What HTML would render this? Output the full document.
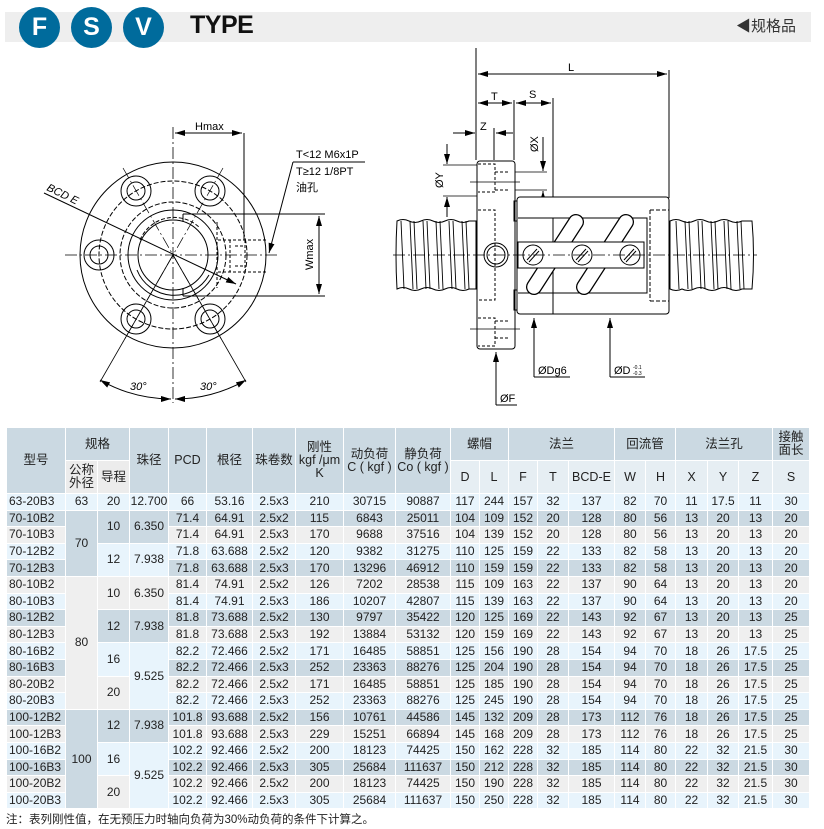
<!DOCTYPE html>
<html><head><meta charset="utf-8"><style>
body{margin:0;width:824px;height:829px;background:#fff;position:relative;overflow:hidden;font-family:"Liberation Sans","Noto Sans CJK SC",sans-serif;}
.bar{position:absolute;left:5px;top:12px;width:806px;height:30px;background:#eeeeee;}
.c{position:absolute;top:7px;width:41px;height:41px;border-radius:50%;background:#006b9c;color:#fff;font-weight:bold;font-size:25px;text-align:center;line-height:41px;}
.type{position:absolute;left:190px;top:11px;font-weight:bold;font-size:25px;color:#111;letter-spacing:-0.5px;}
.gg{position:absolute;right:28px;top:15px;font-size:15px;color:#333;}
table{position:absolute;left:6px;top:427px;border-collapse:collapse;table-layout:fixed;font-size:12px;color:#222;}
td{border:1.5px solid #fff;text-align:center;padding:0;white-space:nowrap;overflow:hidden;line-height:13px;}
.h{background:#cbd9e2;font-size:12.5px;}
.sg{background:#ececec;font-size:12.5px;}
.sl{background:#e6eef3;font-size:12.5px;}
tr.d td{height:15.6px;}
.a{background:#e8f4fc}.b{background:#cbd9e2}.g{background:#efefef}
.l{text-align:left;padding-left:2px}
.note{position:absolute;left:6px;top:811px;font-size:11.5px;color:#222;}
</style></head><body>
<div class="bar"></div>
<div class="c" style="left:19px">F</div><div class="c" style="left:71px">S</div><div class="c" style="left:123px">V</div>
<div class="type">TYPE</div>
<div class="gg">◀规格品</div>

<svg style="position:absolute;left:0;top:0" width="824" height="420" font-family="Liberation Sans, Noto Sans CJK SC, sans-serif">
<defs><marker id="ar" markerWidth="10" markerHeight="6" refX="10" refY="3" orient="auto-start-reverse" markerUnits="userSpaceOnUse"><path d="M0,0 L10,3 L0,6z" fill="#000"/></marker></defs>
<g stroke="#000" fill="none" stroke-width="1">
<circle cx="173" cy="255" r="93"/>
<circle cx="173" cy="255" r="74" stroke-dasharray="5,2"/>
<circle cx="173" cy="255" r="53" stroke-dasharray="5,2"/>
<circle cx="173" cy="255" r="45"/>
<circle cx="173" cy="255" r="35"/>
<path d="M137,270 A40,40 0 0,0 209,275" />
<path d="M140,240 A37,37 0 0,1 200,228" stroke-dasharray="4,2"/>
<g>
<circle cx="136" cy="191" r="15"/><circle cx="136" cy="191" r="9"/>
<circle cx="210" cy="191" r="15"/><circle cx="210" cy="191" r="9"/>
<circle cx="136" cy="319" r="15"/><circle cx="136" cy="319" r="9"/>
<circle cx="210" cy="319" r="15"/><circle cx="210" cy="319" r="9"/>
<circle cx="99" cy="255" r="15"/><circle cx="99" cy="255" r="9"/>
</g>
<path d="M65,255 H280" stroke-dasharray="12,3,2,3" stroke-width="0.8"/>
<path d="M173,127 V403" stroke-dasharray="12,3,2,3" stroke-width="0.8"/>
<path d="M123,168 L223,342 M223,168 L123,342" stroke-dasharray="12,3,2,3" stroke-width="0.7"/>
<path d="M173,255 L100,382 M173,255 L246,382" stroke-width="0.8"/>
<path d="M100,380 A144,144 0 0,0 171,399" marker-start="url(#ar)" marker-end="url(#ar)"/>
<path d="M175,399 A144,144 0 0,0 246,380" marker-start="url(#ar)" marker-end="url(#ar)"/>
<path d="M183,214 H325 M183,296 H325"/>
<path d="M183,214 V222 M183,288 V296" />
<path d="M217,222 V288 M230,240 V272" stroke-dasharray="3,2"/>
<path d="M218,240 H268 M218,272 H268 M235,246 H245 M235,266 H245 M245,240 V272" stroke-dasharray="3,2"/>
<path d="M244,133 V240"/>
<path d="M175,133 H242" marker-start="url(#ar)" marker-end="url(#ar)"/>
<path d="M319,216 V294" marker-start="url(#ar)" marker-end="url(#ar)"/>
<path d="M293,162 H365"/>
<path d="M293,162 L269,253" marker-end="url(#ar)"/>
<path d="M44,193 L236,284" marker-end="url(#ar)"/>

<path d="M476,48 V160 M669,70 V198 M514,100 V160 M553,98 V218 M494,128 V160"/>
<path d="M478,74 H667" marker-start="url(#ar)" marker-end="url(#ar)"/>
<path d="M478,103 H512" marker-start="url(#ar)" marker-end="url(#ar)"/>
<path d="M516,103 H551" marker-start="url(#ar)" marker-end="url(#ar)"/>
<path d="M453,133 H475" marker-end="url(#ar)"/>
<path d="M496,133 H513" marker-start="url(#ar)" />
<path d="M443,165 H478 M443,196 H478" stroke-width="0.8"/>
<path d="M447,144 V164" marker-end="url(#ar)"/><path d="M447,217 V197" marker-end="url(#ar)"/>
<path d="M495,172 H547 M495,190 H547" stroke-width="0.8"/>
<path d="M543,137 V171" marker-end="url(#ar)"/><path d="M543,212 V191" marker-end="url(#ar)"/>
<g>
<path d="M397,221 Q403,218 409,221 T421,221 T433,221 T445,221 T457,221 T469,221 L476,221 V289 L469,289 Q463,292 457,289 T445,289 T433,289 T421,289 T409,289 T397,289 Q395,255 397,221z"/>
<path d="M670,221 Q676,218 682,221 T694,221 T706,221 T718,221 T730,221 T742,221 L752,221 Q755,255 752,289 L742,289 Q736,292 730,289 T718,289 T706,289 T694,289 T682,289 Q676,292 670,289z"/>
<g stroke-width="0.9">
<path d="M401,221 L404,289 M410,221 L413,289 M414,221 L417,289 M423,221 L426,289 M427,221 L430,289 M436,221 L439,289 M440,221 L443,289 M449,221 L452,289 M453,221 L456,289 M462,221 L465,289 M466,221 L469,289"/>
<path d="M676,221 L679,289 M685,221 L688,289 M689,221 L692,289 M698,221 L701,289 M702,221 L705,289 M711,221 L714,289 M715,221 L718,289 M724,221 L727,289 M728,221 L731,289 M737,221 L740,289 M741,221 L744,289"/>
</g>
</g>
<rect x="477" y="161" width="38" height="188" rx="3" fill="#fff"/>
<path d="M478,210 H495 V300 H478 M478,164 H495 V192 H478 M478,318 H495 V346 H478" stroke-dasharray="3,2"/>
<path d="M470,182 H520 M470,329 H520" stroke-width="0.8"/>
<path d="M495,172 H510 M495,190 H510 M495,321 H510 M495,338 H510" stroke-dasharray="3,2"/>
<circle cx="496" cy="255" r="12"/><circle cx="496" cy="255" r="9"/>
<rect x="517" y="197" width="152" height="117" rx="3" fill="#fff"/>
<path d="M517,201 H514 V221 H517 M517,290 H514 V310 H517"/>
<path d="M518,218 H647 V293 H518 M553,218 V314"/>
<path d="M650,210 H669 M650,301 H669 M650,210 V301" stroke-dasharray="4,2"/>
<g stroke-linecap="round">
<path d="M576,222 L534,287" stroke-width="16"/><path d="M576,222 L534,287" stroke-width="13.5" stroke="#fff"/>
<path d="M626,222 L584,287" stroke-width="16"/><path d="M626,222 L584,287" stroke-width="13.5" stroke="#fff"/>
</g>
<rect x="518" y="242" width="126" height="26" fill="#fff"/>
<g>
<circle cx="533" cy="255" r="10"/><path d="M527,260 L537,249 M529,262 L539,251"/>
<circle cx="582" cy="255" r="10"/><path d="M576,260 L586,249 M578,262 L588,251"/>
<circle cx="630" cy="255" r="10"/><path d="M624,260 L634,249 M626,262 L636,251"/>
</g>
<path d="M393,255 H757" stroke-dasharray="12,3,2,3" stroke-width="0.8"/>
<path d="M534,377 V318" marker-end="url(#ar)"/><path d="M534,377 H570"/>
<path d="M610,377 V318" marker-end="url(#ar)"/><path d="M610,377 H645"/>
<path d="M496,405 V352" marker-end="url(#ar)"/><path d="M496,405 H517"/>
</g>
<g font-size="11" fill="#000">
<text x="195" y="130">Hmax</text>
<text x="296" y="158">T&lt;12  M6x1P</text>
<text x="296" y="175">T≥12  1/8PT</text>
<text x="296" y="191">油孔</text>
<text transform="translate(313,270) rotate(-90)">Wmax</text>
<text transform="translate(46,190) rotate(26)" font-style="italic">BCD E</text>
<text x="130" y="390" font-style="italic">30°</text>
<text x="200" y="390" font-style="italic">30°</text>
<text x="568" y="71">L</text>
<text x="491" y="100">T</text>
<text x="529" y="98">S</text>
<text x="480" y="130">Z</text>
<text transform="translate(443,188) rotate(-90)">ØY</text>
<text transform="translate(538,152) rotate(-90)">ØX</text>
<text x="538" y="374">ØDg6</text>
<text x="614" y="374">ØD</text>
<text x="633" y="369" font-size="5">-0.1</text><text x="633" y="375" font-size="5">-0.3</text>
<text x="500" y="402">ØF</text>
</g>
</svg>

<table>
<colgroup><col style="width:59px"><col style="width:32px"><col style="width:32px"><col style="width:39px"><col style="width:38px"><col style="width:46px"><col style="width:43px"><col style="width:48px"><col style="width:52px"><col style="width:55px"><col style="width:29px"><col style="width:29px"><col style="width:29px"><col style="width:31px"><col style="width:46px"><col style="width:31px"><col style="width:30px"><col style="width:32px"><col style="width:31px"><col style="width:34px"><col style="width:37px"></colgroup>
<tr style="height:33px"><td class="h" rowspan="2">型号</td><td class="h" colspan="2">规格</td><td class="h" rowspan="2">珠径</td><td class="h" rowspan="2">PCD</td><td class="h" rowspan="2">根径</td><td class="h" rowspan="2">珠卷数</td><td class="h" rowspan="2">刚性<br>kgf /μm<br>K</td><td class="h" rowspan="2">动负荷<br>C ( kgf )</td><td class="h" rowspan="2">静负荷<br>Co ( kgf )</td><td class="h" colspan="2">螺帽</td><td class="h" colspan="3">法兰</td><td class="h" colspan="2">回流管</td><td class="h" colspan="3">法兰孔</td><td class="h">接触<br>面长</td></tr>
<tr style="height:33px"><td class="sg">公称<br>外径</td><td class="sg">导程</td><td class="sl">D</td><td class="sl">L</td><td class="sl">F</td><td class="sl">T</td><td class="sl">BCD-E</td><td class="sl">W</td><td class="sl">H</td><td class="sl">X</td><td class="sl">Y</td><td class="sl">Z</td><td class="sl">S</td></tr>
<tr class="d a"><td class="l">63-20B3</td><td>63</td><td>20</td><td>12.700</td><td>66</td><td>53.16</td><td>2.5x3</td><td>210</td><td>30715</td><td>90887</td><td>117</td><td>244</td><td>157</td><td>32</td><td>137</td><td>82</td><td>70</td><td>11</td><td>17.5</td><td>11</td><td>30</td></tr>
<tr class="d b"><td class="l">70-10B2</td><td rowspan="4" class="b">70</td><td rowspan="2" class="b">10</td><td rowspan="2" class="b">6.350</td><td>71.4</td><td>64.91</td><td>2.5x2</td><td>115</td><td>6843</td><td>25011</td><td>104</td><td>109</td><td>152</td><td>20</td><td>128</td><td>80</td><td>56</td><td>13</td><td>20</td><td>13</td><td>20</td></tr>
<tr class="d g"><td class="l">70-10B3</td><td>71.4</td><td>64.91</td><td>2.5x3</td><td>170</td><td>9688</td><td>37516</td><td>104</td><td>139</td><td>152</td><td>20</td><td>128</td><td>80</td><td>56</td><td>13</td><td>20</td><td>13</td><td>20</td></tr>
<tr class="d a"><td class="l">70-12B2</td><td rowspan="2" class="a">12</td><td rowspan="2" class="a">7.938</td><td>71.8</td><td>63.688</td><td>2.5x2</td><td>120</td><td>9382</td><td>31275</td><td>110</td><td>125</td><td>159</td><td>22</td><td>133</td><td>82</td><td>58</td><td>13</td><td>20</td><td>13</td><td>20</td></tr>
<tr class="d b"><td class="l">70-12B3</td><td>71.8</td><td>63.688</td><td>2.5x3</td><td>170</td><td>13296</td><td>46912</td><td>110</td><td>159</td><td>159</td><td>22</td><td>133</td><td>82</td><td>58</td><td>13</td><td>20</td><td>13</td><td>20</td></tr>
<tr class="d g"><td class="l">80-10B2</td><td rowspan="8" class="g">80</td><td rowspan="2" class="g">10</td><td rowspan="2" class="g">6.350</td><td>81.4</td><td>74.91</td><td>2.5x2</td><td>126</td><td>7202</td><td>28538</td><td>115</td><td>109</td><td>163</td><td>22</td><td>137</td><td>90</td><td>64</td><td>13</td><td>20</td><td>13</td><td>20</td></tr>
<tr class="d a"><td class="l">80-10B3</td><td>81.4</td><td>74.91</td><td>2.5x3</td><td>186</td><td>10207</td><td>42807</td><td>115</td><td>139</td><td>163</td><td>22</td><td>137</td><td>90</td><td>64</td><td>13</td><td>20</td><td>13</td><td>20</td></tr>
<tr class="d b"><td class="l">80-12B2</td><td rowspan="2" class="b">12</td><td rowspan="2" class="b">7.938</td><td>81.8</td><td>73.688</td><td>2.5x2</td><td>130</td><td>9797</td><td>35422</td><td>120</td><td>125</td><td>169</td><td>22</td><td>143</td><td>92</td><td>67</td><td>13</td><td>20</td><td>13</td><td>25</td></tr>
<tr class="d g"><td class="l">80-12B3</td><td>81.8</td><td>73.688</td><td>2.5x3</td><td>192</td><td>13884</td><td>53132</td><td>120</td><td>159</td><td>169</td><td>22</td><td>143</td><td>92</td><td>67</td><td>13</td><td>20</td><td>13</td><td>25</td></tr>
<tr class="d a"><td class="l">80-16B2</td><td rowspan="2" class="a">16</td><td rowspan="4" class="a">9.525</td><td>82.2</td><td>72.466</td><td>2.5x2</td><td>171</td><td>16485</td><td>58851</td><td>125</td><td>156</td><td>190</td><td>28</td><td>154</td><td>94</td><td>70</td><td>18</td><td>26</td><td>17.5</td><td>25</td></tr>
<tr class="d b"><td class="l">80-16B3</td><td>82.2</td><td>72.466</td><td>2.5x3</td><td>252</td><td>23363</td><td>88276</td><td>125</td><td>204</td><td>190</td><td>28</td><td>154</td><td>94</td><td>70</td><td>18</td><td>26</td><td>17.5</td><td>25</td></tr>
<tr class="d g"><td class="l">80-20B2</td><td rowspan="2" class="g">20</td><td>82.2</td><td>72.466</td><td>2.5x2</td><td>171</td><td>16485</td><td>58851</td><td>125</td><td>185</td><td>190</td><td>28</td><td>154</td><td>94</td><td>70</td><td>18</td><td>26</td><td>17.5</td><td>25</td></tr>
<tr class="d a"><td class="l">80-20B3</td><td>82.2</td><td>72.466</td><td>2.5x3</td><td>252</td><td>23363</td><td>88276</td><td>125</td><td>245</td><td>190</td><td>28</td><td>154</td><td>94</td><td>70</td><td>18</td><td>26</td><td>17.5</td><td>25</td></tr>
<tr class="d b"><td class="l">100-12B2</td><td rowspan="6" class="b">100</td><td rowspan="2" class="b">12</td><td rowspan="2" class="b">7.938</td><td>101.8</td><td>93.688</td><td>2.5x2</td><td>156</td><td>10761</td><td>44586</td><td>145</td><td>132</td><td>209</td><td>28</td><td>173</td><td>112</td><td>76</td><td>18</td><td>26</td><td>17.5</td><td>25</td></tr>
<tr class="d g"><td class="l">100-12B3</td><td>101.8</td><td>93.688</td><td>2.5x3</td><td>229</td><td>15251</td><td>66894</td><td>145</td><td>168</td><td>209</td><td>28</td><td>173</td><td>112</td><td>76</td><td>18</td><td>26</td><td>17.5</td><td>25</td></tr>
<tr class="d a"><td class="l">100-16B2</td><td rowspan="2" class="a">16</td><td rowspan="4" class="a">9.525</td><td>102.2</td><td>92.466</td><td>2.5x2</td><td>200</td><td>18123</td><td>74425</td><td>150</td><td>162</td><td>228</td><td>32</td><td>185</td><td>114</td><td>80</td><td>22</td><td>32</td><td>21.5</td><td>30</td></tr>
<tr class="d b"><td class="l">100-16B3</td><td>102.2</td><td>92.466</td><td>2.5x3</td><td>305</td><td>25684</td><td>111637</td><td>150</td><td>212</td><td>228</td><td>32</td><td>185</td><td>114</td><td>80</td><td>22</td><td>32</td><td>21.5</td><td>30</td></tr>
<tr class="d g"><td class="l">100-20B2</td><td rowspan="2" class="g">20</td><td>102.2</td><td>92.466</td><td>2.5x2</td><td>200</td><td>18123</td><td>74425</td><td>150</td><td>190</td><td>228</td><td>32</td><td>185</td><td>114</td><td>80</td><td>22</td><td>32</td><td>21.5</td><td>30</td></tr>
<tr class="d a"><td class="l">100-20B3</td><td>102.2</td><td>92.466</td><td>2.5x3</td><td>305</td><td>25684</td><td>111637</td><td>150</td><td>250</td><td>228</td><td>32</td><td>185</td><td>114</td><td>80</td><td>22</td><td>32</td><td>21.5</td><td>30</td></tr>
</table>
<div class="note">注：表列刚性值，在无预压力时轴向负荷为30%动负荷的条件下计算之。</div>
</body></html>
